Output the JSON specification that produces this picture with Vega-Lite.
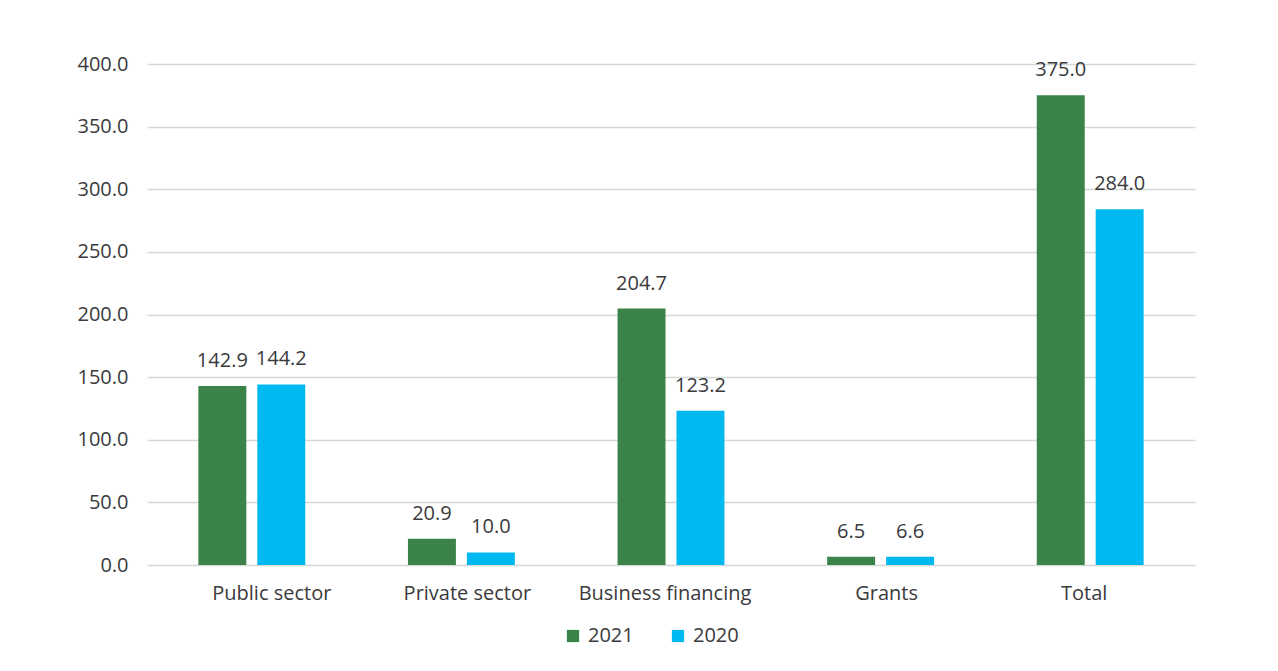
{
  "$schema": "https://vega.github.io/schema/vega-lite/v6.json",
  "width": 1048,
  "height": 501,
  "autosize": {"type": "none"},
  "padding": {"left": 147, "top": 64, "right": 83, "bottom": 106},
  "background": "white",
  "config": {
    "view": {"stroke": null},
    "font": "Open Sans",
    "axis": {"labelFont": "Open Sans", "labelColor": "#3a3a3c", "labelFontSize": 20}
  },
  "data": {
    "values": [
      {"category": "Public sector", "year": "2021", "value": 142.9},
      {"category": "Public sector", "year": "2020", "value": 144.2},
      {"category": "Private sector", "year": "2021", "value": 20.9},
      {"category": "Private sector", "year": "2020", "value": 10.0},
      {"category": "Business financing", "year": "2021", "value": 204.7},
      {"category": "Business financing", "year": "2020", "value": 123.2},
      {"category": "Grants", "year": "2021", "value": 6.5},
      {"category": "Grants", "year": "2020", "value": 6.6},
      {"category": "Total", "year": "2021", "value": 375.0},
      {"category": "Total", "year": "2020", "value": 284.0}
    ]
  },
  "encoding": {
    "x": {
      "field": "category",
      "type": "nominal",
      "sort": ["Public sector", "Private sector", "Business financing", "Grants", "Total"],
      "scale": {"paddingInner": 0.49, "paddingOuter": 0.245},
      "axis": {
        "title": null,
        "labelAngle": 0,
        "domain": false,
        "ticks": false,
        "labelPadding": 18,
        "labelOffset": {"expr": "datum.value == 'Public sector' ? 20 : datum.value == 'Private sector' ? 6 : datum.value == 'Business financing' ? -6 : datum.value == 'Grants' ? 6 : -6"}
      }
    },
    "xOffset": {
      "field": "year",
      "type": "nominal",
      "sort": ["2021", "2020"],
      "scale": {"domain": ["2021", "2020"], "paddingInner": 0.186, "paddingOuter": 0}
    },
    "y": {
      "field": "value",
      "type": "quantitative",
      "scale": {"domain": [0, 400], "nice": false},
      "axis": {
        "title": null,
        "values": [0, 50, 100, 150, 200, 250, 300, 350, 400],
        "format": ".1f",
        "domain": false,
        "ticks": false,
        "labelPadding": 19,
        "gridColor": "#d3d9d7",
        "gridWidth": 1.5
      }
    }
  },
  "layer": [
    {
      "mark": {"type": "bar"},
      "encoding": {
        "color": {
          "field": "year",
          "type": "nominal",
          "scale": {"domain": ["2021", "2020"], "range": ["#3c8349", "#00b9f1"]},
          "legend": {
            "title": null,
            "orient": "none",
            "direction": "horizontal",
            "legendX": 416,
            "legendY": 562,
            "padding": 0,
            "symbolType": "square",
            "symbolSize": 150,
            "symbolStrokeWidth": 0,
            "labelFont": "Open Sans",
            "labelFontSize": 20,
            "labelColor": "#3a3a3c",
            "labelOffset": 5,
            "columnPadding": 34
          }
        }
      }
    },
    {
      "mark": {"type": "text", "baseline": "alphabetic", "dy": -19, "fontSize": 20, "color": "#3a3a3c", "font": "Open Sans"},
      "encoding": {
        "text": {"field": "value", "type": "quantitative", "format": ".1f"}
      }
    }
  ]
}
